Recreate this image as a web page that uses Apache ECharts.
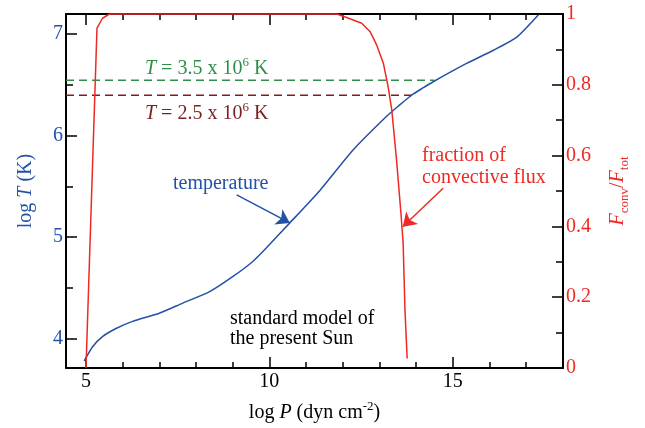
<!DOCTYPE html>
<html><head><meta charset="utf-8">
<script src="https://cdn.jsdelivr.net/npm/echarts@6/dist/echarts.min.js"></script>
<style>html,body{margin:0;padding:0;background:#fff}#c{width:645px;height:428px}</style>
</head><body><div id="c"></div>
<script>
// ---- data ----
const logPTemp = [4.95, 5.18, 5.45, 5.82, 6.27, 7.0, 7.64, 8.36, 9.0, 9.55, 9.91, 10.56, 11.38, 12.29, 13.2, 13.55, 13.75, 13.93, 14.15, 14.47, 15.38, 16.11, 16.75, 17.34];
const logTTemp = [3.78, 3.92, 4.02, 4.10, 4.17, 4.25, 4.35, 4.46, 4.61, 4.76, 4.89, 5.14, 5.46, 5.86, 6.19, 6.30, 6.36, 6.41, 6.46, 6.53, 6.71, 6.84, 6.97, 7.19];
const logPFlux = [5.0, 5.3, 5.45, 5.64, 11.84, 12.11, 12.52, 12.75, 12.93, 13.11, 13.24, 13.34, 13.47, 13.59, 13.65, 13.70, 13.76];
const fracFlux = [0.0, 0.96, 0.988, 1.0, 1.0, 0.99, 0.974, 0.95, 0.912, 0.861, 0.795, 0.729, 0.588, 0.437, 0.352, 0.164, 0.027];
const refLogT = [6.544, 6.398];        // log(3.5e6), log(2.5e6)
const refEndLogP = [14.5, 13.9];
const xTicksMajor = [5, 10, 15];
const xTicksMinor = [5, 6, 7, 8, 9, 10, 11, 12, 13, 14, 15, 16, 17, 18];
const yTicksMajor = [4, 5, 6, 7];
const yTicksMinor = [4.5, 5.5, 6.5];
const tempArrow = [[9.11, 5.415], [10.56, 5.14]];
const fluxArrow = [[14.74, 0.508], [13.64, 0.399]];
const xMin = 4.455, xMax = 18.01, yMin = 3.711, yMax = 7.197;

// ---- styles ----
const FF = 'Liberation Serif';
const BLUE = '#2251a6', RED = '#ee2a24', GREEN = '#2f8f4a', BROWN = '#7a1f22';
const tickStyle = {color: '#000', width: 1.5};

const zip = (a, b) => a.map((v, i) => [v, b[i]]);

const chart = echarts.init(document.getElementById('c'), null, {renderer: 'canvas'});
const baseX = {type: 'value', min: xMin, max: xMax, splitLine: {show: false}, gridIndex: 0};
const baseYL = {type: 'value', min: yMin, max: yMax, splitLine: {show: false}};
const supStyle = (c) => ({fontSize: 13, fontFamily: FF, color: c, fill: c, verticalAlign: 'top', lineHeight: 10});
const normStyle = (c, italic) => ({fontSize: 20, fontFamily: FF, color: c, fill: c, lineHeight: 26, fontStyle: italic ? 'italic' : 'normal'});

chart.setOption({
  animation: false,
  backgroundColor: '#fff',
  grid: {left: 66, right: 82, top: 14, bottom: 60, containLabel: false},
  xAxis: [
    Object.assign({}, baseX, {
      position: 'bottom',
      axisLine: {show: true, onZero: false, lineStyle: {color: '#000', width: 2}},
      axisTick: {show: true, inside: true, length: 11, customValues: xTicksMajor, lineStyle: tickStyle},
      axisLabel: {customValues: xTicksMajor, color: '#000', fontSize: 20, fontFamily: FF, margin: 4},
      name: '{n|log }{i|P}{n| (dyn cm}{sup|-2}{n|)}',
      nameLocation: 'middle', nameGap: 32,
      nameTextStyle: {color: '#000', fontSize: 20, fontFamily: FF,
        rich: {n: normStyle('#000', false), i: normStyle('#000', true), sup: supStyle('#000')}}
    }),
    Object.assign({}, baseX, {
      position: 'bottom',
      axisLine: {show: false, onZero: false},
      axisTick: {show: true, inside: true, length: 6, customValues: xTicksMinor, lineStyle: tickStyle},
      axisLabel: {show: false}
    }),
    Object.assign({}, baseX, {
      position: 'top',
      axisLine: {show: true, onZero: false, lineStyle: {color: '#000', width: 2}},
      axisTick: {show: true, inside: true, length: 11, customValues: xTicksMajor, lineStyle: tickStyle},
      axisLabel: {show: false}
    }),
    Object.assign({}, baseX, {
      position: 'top',
      axisLine: {show: false, onZero: false},
      axisTick: {show: true, inside: true, length: 6, customValues: xTicksMinor, lineStyle: tickStyle},
      axisLabel: {show: false}
    })
  ],
  yAxis: [
    Object.assign({}, baseYL, {
      position: 'left',
      axisLine: {show: true, onZero: false, lineStyle: {color: '#000', width: 2}},
      axisTick: {show: true, inside: true, length: 11, customValues: yTicksMajor, lineStyle: tickStyle},
      axisLabel: {customValues: yTicksMajor, color: BLUE, fontSize: 20, fontFamily: FF, margin: 3},
      name: 'log {i|T} (K)',
      nameLocation: 'middle', nameGap: 30, nameRotate: 90,
      nameTextStyle: {color: BLUE, fontSize: 20, fontFamily: FF,
        rich: {i: {fontStyle: 'italic', fontSize: 20, fontFamily: FF, color: BLUE}}}
    }),
    Object.assign({}, baseYL, {
      position: 'left',
      axisLine: {show: false, onZero: false},
      axisTick: {show: true, inside: true, length: 7, customValues: yTicksMinor, lineStyle: tickStyle},
      axisLabel: {show: false}
    }),
    {
      type: 'value', min: 0, max: 1, interval: 0.2, position: 'right',
      splitLine: {show: false},
      axisLine: {show: true, onZero: false, lineStyle: {color: '#000', width: 2}},
      axisTick: {show: true, inside: true, length: 11, lineStyle: tickStyle},
      minorTick: {show: true, splitNumber: 2, length: 7, lineStyle: tickStyle},
      axisLabel: {color: RED, fontSize: 20, fontFamily: FF, margin: 3},
      name: '{i|F}{sub|conv}/{i|F}{sub|tot}',
      nameLocation: 'middle', nameGap: 42, nameRotate: 90,
      nameTextStyle: {color: RED, fontSize: 20, fontFamily: FF,
        rich: {i: {fontStyle: 'italic', fontSize: 20, fontFamily: FF, color: RED, lineHeight: 26},
               sub: {fontSize: 13, fontFamily: FF, color: RED, verticalAlign: 'bottom', lineHeight: 26}}}
    }
  ],
  series: [
    {
      type: 'line', name: 'T35', xAxisIndex: 0, yAxisIndex: 0, showSymbol: false, silent: true,
      data: [[xMin, refLogT[0]], [refEndLogP[0], refLogT[0]]],
      lineStyle: {color: GREEN, width: 1.5, type: [8, 5]}
    },
    {
      type: 'line', name: 'T25', xAxisIndex: 0, yAxisIndex: 0, showSymbol: false, silent: true,
      data: [[xMin, refLogT[1]], [refEndLogP[1], refLogT[1]]],
      lineStyle: {color: BROWN, width: 1.5, type: [8, 5]}
    },
    {
      type: 'line', name: 'temperature', xAxisIndex: 0, yAxisIndex: 0, showSymbol: false, silent: true,
      smooth: 0.2, data: zip(logPTemp, logTTemp),
      lineStyle: {color: BLUE, width: 1.5},
      markLine: {
        silent: true, symbol: ['none', 'arrow'], symbolSize: 13,
        label: {show: false}, lineStyle: {color: BLUE, width: 1.5, type: 'solid'},
        itemStyle: {color: BLUE},
        data: [[{coord: tempArrow[0]}, {coord: tempArrow[1]}]]
      }
    },
    {
      type: 'line', name: 'flux', xAxisIndex: 0, yAxisIndex: 2, showSymbol: false, silent: true,
      clip: false, data: zip(logPFlux, fracFlux),
      lineStyle: {color: RED, width: 1.5},
      markLine: {
        silent: true, symbol: ['none', 'arrow'], symbolSize: 13,
        label: {show: false}, lineStyle: {color: RED, width: 1.5, type: 'solid'},
        itemStyle: {color: RED},
        data: [[{coord: fluxArrow[0]}, {coord: fluxArrow[1]}]]
      }
    }
  ],
  graphic: [
    {type: 'text', left: 145, top: 56, silent: true, style: {
      text: '{i|T}{n| = 3.5 x 10}{sup|6}{n| K}', fill: GREEN, font: '20px "Liberation Serif"',
      rich: {n: normStyle(GREEN, false), i: normStyle(GREEN, true), sup: supStyle(GREEN)}}},
    {type: 'text', left: 145, top: 101, silent: true, style: {
      text: '{i|T}{n| = 2.5 x 10}{sup|6}{n| K}', fill: BROWN, font: '20px "Liberation Serif"',
      rich: {n: normStyle(BROWN, false), i: normStyle(BROWN, true), sup: supStyle(BROWN)}}},
    {type: 'text', left: 173, top: 174, silent: true, style: {
      text: 'temperature', fill: BLUE, font: '20px "Liberation Serif"'}},
    {type: 'text', left: 422, top: 145, silent: true, style: {
      text: 'fraction of\nconvective flux', fill: RED, font: '20px "Liberation Serif"', lineHeight: 22}},
    {type: 'text', left: 230, top: 309, silent: true, style: {
      text: 'standard model of\nthe present Sun', fill: '#000', font: '20px "Liberation Serif"', lineHeight: 20}}
  ]
});
</script>
</body></html>
